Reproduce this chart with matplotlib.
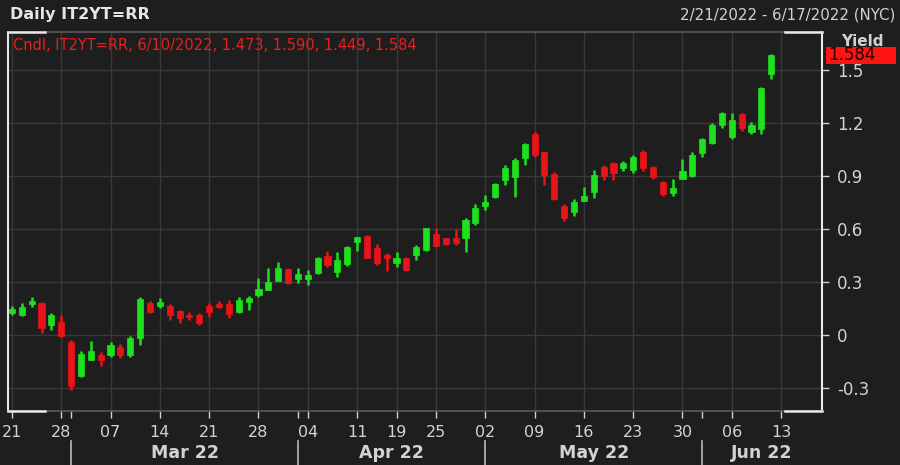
import matplotlib
matplotlib.use("Agg")
import matplotlib.pyplot as plt
import pandas as pd
import numpy as np

# ---------------- data ----------------
holidays = ["2022-04-15", "2022-04-18"]
trading_days = [d for d in pd.bdate_range("2022-02-21", "2022-06-17")
                if d.strftime("%Y-%m-%d") not in holidays]

opens = [0.124, 0.113, 0.175, 0.179, 0.056, 0.075, -0.038, -0.232, -0.141, -0.113,
         -0.113, -0.066, -0.113, -0.019, 0.179, 0.164, 0.164, 0.137, 0.115, 0.113,
         0.166, 0.173, 0.173, 0.132, 0.185, 0.226, 0.254, 0.305, 0.373, 0.316,
         0.316, 0.349, 0.448, 0.358, 0.399, 0.524, 0.561, 0.493, 0.452, 0.405,
         0.433, 0.452, 0.480, 0.569, 0.546, 0.550, 0.546, 0.631, 0.729, 0.782,
         0.876, 0.894, 0.998, 1.134, 1.032, 0.908, 0.731, 0.693, 0.757, 0.810,
         0.947, 0.970, 0.942, 0.932, 1.036, 0.951, 0.866, 0.804, 0.880, 0.898,
         1.026, 1.087, 1.186, 1.117, 1.249, 1.149, 1.162, 1.473]
highs = [0.164, 0.183, 0.216, 0.188, 0.123, 0.113, -0.028, -0.089, -0.032, -0.094,
         -0.038, -0.051, -0.006, 0.216, 0.194, 0.207, 0.175, 0.141, 0.132, 0.126,
         0.179, 0.192, 0.198, 0.216, 0.222, 0.320, 0.380, 0.411, 0.377, 0.380,
         0.367, 0.442, 0.475, 0.471, 0.505, 0.556, 0.565, 0.512, 0.462, 0.471,
         0.442, 0.508, 0.606, 0.603, 0.550, 0.599, 0.663, 0.738, 0.791, 0.857,
         0.960, 0.998, 1.083, 1.149, 1.036, 0.923, 0.738, 0.768, 0.838, 0.932,
         0.960, 0.979, 0.985, 1.017, 1.045, 0.955, 0.872, 0.880, 0.993, 1.036,
         1.111, 1.196, 1.262, 1.256, 1.256, 1.205, 1.403, 1.590]
lows = [0.113, 0.107, 0.156, 0.013, 0.028, -0.009, -0.311, -0.239, -0.141, -0.175,
        -0.122, -0.132, -0.122, -0.056, 0.123, 0.151, 0.085, 0.070, 0.085, 0.056,
        0.104, 0.154, 0.094, 0.123, 0.141, 0.216, 0.254, 0.305, 0.286, 0.292,
        0.282, 0.343, 0.386, 0.329, 0.392, 0.475, 0.433, 0.395, 0.362, 0.386,
        0.360, 0.424, 0.475, 0.505, 0.508, 0.508, 0.471, 0.621, 0.706, 0.776,
        0.847, 0.782, 0.960, 1.007, 0.847, 0.763, 0.644, 0.674, 0.757, 0.772,
        0.876, 0.876, 0.928, 0.917, 0.928, 0.880, 0.785, 0.785, 0.880, 0.891,
        1.004, 1.079, 1.168, 1.106, 1.154, 1.136, 1.136, 1.449]
closes = [0.147, 0.160, 0.194, 0.038, 0.113, -0.006, -0.288, -0.107, -0.089, -0.141,
          -0.056, -0.113, -0.019, 0.202, 0.132, 0.188, 0.113, 0.094, 0.100, 0.070,
          0.128, 0.160, 0.117, 0.198, 0.207, 0.260, 0.301, 0.377, 0.292, 0.343,
          0.339, 0.433, 0.395, 0.424, 0.499, 0.556, 0.437, 0.405, 0.433, 0.437,
          0.370, 0.499, 0.603, 0.505, 0.512, 0.518, 0.650, 0.719, 0.750, 0.851,
          0.945, 0.989, 1.077, 1.017, 0.904, 0.768, 0.659, 0.750, 0.787, 0.904,
          0.898, 0.913, 0.974, 1.007, 0.942, 0.891, 0.797, 0.829, 0.928, 1.017,
          1.106, 1.186, 1.256, 1.215, 1.168, 1.186, 1.394, 1.584]

y_ticks = [-0.3, 0, 0.3, 0.6, 0.9, 1.2, 1.5]
y_tick_labels = ["-0.3", "0", "0.3", "0.6", "0.9", "1.2", "1.5"]
month_labels = ["Mar 22", "Apr 22", "May 22", "Jun 22"]
title = "Daily IT2YT=RR"
date_range = "2/21/2022 - 6/17/2022 (NYC)"
info = "Cndl, IT2YT=RR, 6/10/2022, 1.473, 1.590, 1.449, 1.584"
last_value = "1.584"

# ---------------- style ----------------
BG = "#1e1e1e"
GRID = "#3a3a3a"
TXT = "#d2d2d2"
GREEN = "#1fe01f"
RED = "#e8141a"

fig = plt.figure(figsize=(9, 4.65), dpi=100, facecolor=BG)
ax = fig.add_axes([8/900, 1-411/465, 814/900, 379/465], facecolor=BG)

n = len(opens)
x = np.arange(n)
o = np.array(opens); c = np.array(closes)
h = np.array(highs); l = np.array(lows)
up = c >= o
cols = np.where(up, GREEN, RED)

ax.vlines(x, l, h, colors=cols, linewidth=1.8, zorder=3)
ax.bar(x, np.maximum(np.abs(c - o), 0.006), bottom=np.minimum(o, c), width=0.62,
       color=cols, edgecolor=cols, linewidth=0.5, zorder=4)

ax.set_xlim(-0.4, 82.15)
ax.set_ylim(-0.429, 1.712)

# weekly ticks (first trading day each week) and month starts
dates = pd.Series(trading_days)
week_key = dates.dt.strftime("%G-%V")
week_idx = [i for i in range(len(dates)) if i == 0 or week_key[i] != week_key[i-1]]
month_key = dates.dt.strftime("%Y-%m")
month_idx = [i for i in range(1, len(dates)) if month_key[i] != month_key[i-1]]

ax.set_xticks(week_idx)
ax.set_xticklabels([dates[i].strftime("%d") for i in week_idx])
ax.set_xticks(month_idx, minor=True)
ax.grid(True, which="major", axis="both", color=GRID, linewidth=1.0, zorder=0)
ax.tick_params(axis="x", which="both", colors=TXT, length=5, width=1, pad=5,
               labelsize=11.5, direction="out")
ax.tick_params(axis="x", which="minor", labelbottom=False)

ax.yaxis.tick_right()
ax.set_yticks(y_ticks)
ax.set_yticklabels(y_tick_labels)
ax.tick_params(axis="y", colors=TXT, length=5, width=1, pad=6, labelsize=12)
for lab in ax.get_xticklabels() + ax.get_yticklabels():
    lab.set_color(TXT)

for s in ["top", "bottom"]:
    ax.spines[s].set_color("#5a5a5a")
    ax.spines[s].set_linewidth(1.2)
for s in ["left", "right"]:
    ax.spines[s].set_color("#e8e8e8")
    ax.spines[s].set_linewidth(1.5)

# white corner brackets
cw = 37 / 814
for (x0, x1) in [(0, cw), (1 - cw, 1)]:
    for yy in (0, 1):
        ax.plot([x0, x1], [yy, yy], color="#e8e8e8", linewidth=1.8,
                transform=ax.transAxes, clip_on=False, zorder=6)

# month separators and labels
xmin, xmax = ax.get_xlim()
bounds = month_idx + [xmax]
trans = ax.get_xaxis_transform()
for k, mi in enumerate(month_idx):
    ax.plot([mi, mi], [-0.078, -0.15], color="#bbbbbb", linewidth=1.2,
            transform=trans, clip_on=False)
    ax.text((bounds[k] + bounds[k+1]) / 2, -0.112, month_labels[k], transform=trans,
            ha="center", va="center", fontsize=12.5, fontweight="bold", color=TXT)

# header texts
fig.text(10/900, 1-15/465, title, ha="left", va="center", fontsize=11.5,
         fontweight="bold", color="#e6e6e6")
fig.text(895/900, 1-15/465, date_range, ha="right", va="center", fontsize=10.8,
         color=TXT)
fig.text(13/900, 1-46/465, info, ha="left", va="center", fontsize=10.5, color="#e52020")

# Yield label and last value box
fig.text(862/900, 1-41/465, "Yield", ha="center", va="center", fontsize=11,
         fontweight="bold", color=TXT, zorder=5)
fig.patches.append(plt.Rectangle((826/900, 1-64/465), 70/900, 17/465,
                                 transform=fig.transFigure, facecolor="#ff1414",
                                 edgecolor="none", zorder=6))
fig.text(828/900, 1-55.5/465, last_value, ha="left", va="center", fontsize=12,
         color="#2a0000", zorder=7)

fig.savefig("out.png", dpi=100, facecolor=BG)
